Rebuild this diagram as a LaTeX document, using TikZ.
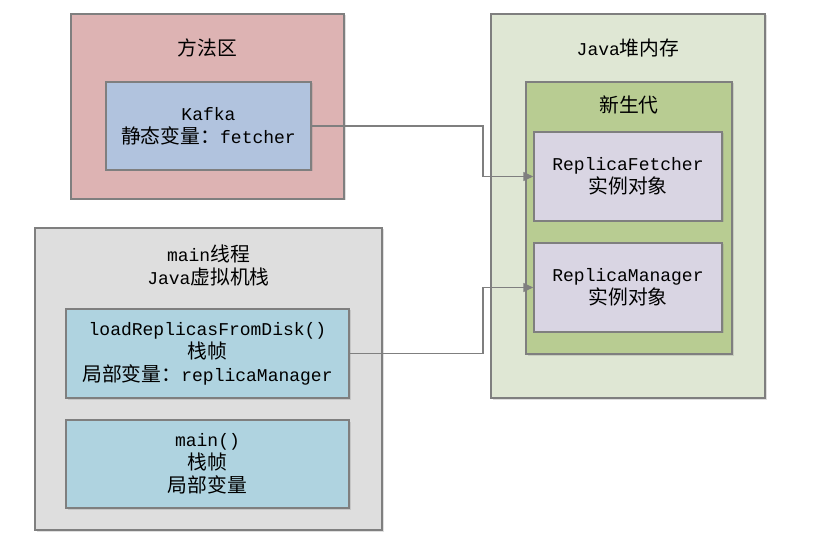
\documentclass[tikz,border=0pt]{standalone}
\usepackage{fontspec}
\setmainfont{Liberation Mono}
\newfontfamily\cjk[Scale=1.1]{Noto Sans CJK SC}
\newcommand\zh[1]{{\cjk #1}}
\usetikzlibrary{arrows.meta,shadows}
\definecolor{linegray}{HTML}{7F7F7F}
\definecolor{methodpink}{HTML}{DDB3B3}
\definecolor{classblue}{HTML}{B1C3DE}
\definecolor{heapgreen}{HTML}{DFE7D4}
\definecolor{younggreen}{HTML}{B8CC92}
\definecolor{objlilac}{HTML}{D9D5E3}
\definecolor{stackgray}{HTML}{DEDEDE}
\definecolor{framecyan}{HTML}{AFD3E0}
\tikzset{
  area/.style={draw=linegray, line width=1.5pt, inner sep=0pt,
    drop shadow={shadow xshift=1.5pt, shadow yshift=-1.5pt, opacity=.25}},
  item/.style={area, align=center},
  title/.style={align=center},
  link/.style={draw=linegray, line width=1.5pt, -{Triangle[length=10pt,width=9pt]}}
}
\begin{document}
\begin{tikzpicture}[x=1pt, y=1pt, every node/.style={font=\fontsize{18}{23}\selectfont}]
\useasboundingbox (0,0) rectangle (822,-545);

% method area
\node[area, fill=methodpink, minimum width=273, minimum height=185] (method) at (207.5,-106.5) {};
\node[title] (methodtitle) at (207.5,-48) {\zh{方法区}};
\node[item, fill=classblue, minimum width=205, minimum height=88] (kafka) at (208.5,-126) {Kafka\\\zh{静态变量：}fetcher};

% heap
\node[area, fill=heapgreen, minimum width=274, minimum height=384] (heap) at (628,-206) {};
\node[title] (heaptitle) at (628,-48) {Java\zh{堆内存}};
\node[area, fill=younggreen, minimum width=206, minimum height=272] (young) at (629,-218) {};
\node[title] (youngtitle) at (629,-105) {\zh{新生代}};
\node[item, fill=objlilac, minimum width=188, minimum height=89] (fetcher) at (628,-176.5) {ReplicaFetcher\\\zh{实例对象}};
\node[item, fill=objlilac, minimum width=188, minimum height=89] (manager) at (628,-287.5) {ReplicaManager\\\zh{实例对象}};

% main thread stack
\node[area, fill=stackgray, minimum width=347, minimum height=302] (thread) at (208.5,-379) {};
\node[title] (threadtitle) at (208.5,-265) {main\zh{线程}\\Java\zh{虚拟机栈}};
\node[item, fill=framecyan, minimum width=283, minimum height=89] (load) at (207.5,-353.5) {loadReplicasFromDisk()\\\zh{栈帧}\\\zh{局部变量：}replicaManager};
\node[item, fill=framecyan, minimum width=283, minimum height=88] (mainframe) at (207.5,-464) {main()\\\zh{栈帧}\\\zh{局部变量}};

% references
\coordinate (bendA) at (483,-176.5);
\coordinate (bendB) at (483,-287.5);
\draw[link] (kafka.east) -| (bendA) -- (fetcher.west);
\draw[link] (load.east) -| (bendB) -- (manager.west);
\end{tikzpicture}
\end{document}
